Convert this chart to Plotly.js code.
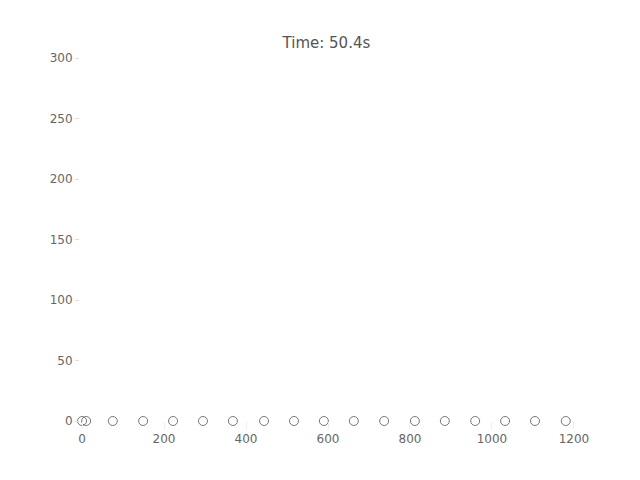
<!DOCTYPE html>
<html><head><script src="https://cdn.plot.ly/plotly-3.0.1.min.js"></script></head>
<body style="margin:0">
<div id="c" style="width:640px;height:480px"></div>
<script>
const xs = [0, 10, 75, 149, 222, 295, 368, 444, 517, 590, 663, 737, 812, 885, 959, 1032, 1105, 1180];
const ys = [0, 0, 0, 0, 0, 0, 0, 0, 0, 0, 0, 0, 0, 0, 0, 0, 0, 0];
const xticks = [0, 200, 400, 600, 800, 1000, 1200];
const yticks = [0, 50, 100, 150, 200, 250, 300];
Plotly.newPlot('c', [{
  x: xs, y: ys, type: 'scatter', mode: 'markers', cliponaxis: false,
  marker: {symbol: 'circle-open', size: 9, color: '#777', line: {width: 1}}
}], {
  width: 640, height: 480,
  margin: {l: 80, r: 64, t: 58, b: 59},
  paper_bgcolor: 'white', plot_bgcolor: 'white',
  title: {text: 'Time: 50.4s', x: 0.51, y: 0.922, font: {family: 'DejaVu Sans', size: 15, color: '#555'}},
  font: {family: 'DejaVu Sans', size: 12, color: '#666'},
  showlegend: false,
  xaxis: {range: [-5, 1205], tickvals: xticks, showgrid: false, zeroline: false, showline: false,
          ticks: 'outside', ticklen: 7, tickcolor: '#eee'},
  yaxis: {range: [0, 300], tickvals: yticks, showgrid: false, zeroline: false, showline: false,
          ticks: 'outside', ticklen: 4, tickcolor: '#ddd'}
}, {displayModeBar: false});
</script></body></html>
